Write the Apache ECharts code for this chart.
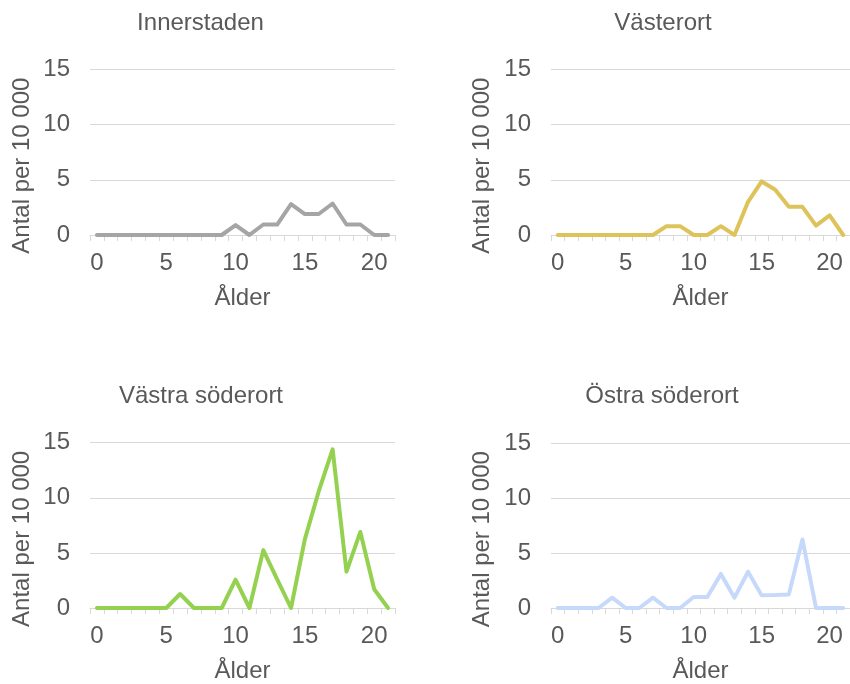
<!DOCTYPE html>
<html>
<head>
<meta charset="utf-8">
<script src="https://cdn.jsdelivr.net/npm/echarts@6/dist/echarts.min.js"></script>
<style>
  html, body { margin: 0; padding: 0; background: #fff; }
  #chart { width: 850px; height: 684px; }
</style>
</head>
<body>
<div id="chart"></div>
<script>
const ages = ['0','1','2','3','4','5','6','7','8','9','10','11','12','13','14','15','16','17','18','19','20','21']

const innerstaden = [0, 0, 0, 0, 0, 0, 0, 0, 0, 0, 0.9, 0, 0.95, 0.95, 2.8, 1.9, 1.9, 2.85, 0.95, 0.95, 0, 0]
const vasterort = [0, 0, 0, 0, 0, 0, 0, 0, 0.8, 0.8, 0, 0, 0.8, 0, 3.0, 4.85, 4.1, 2.55, 2.55, 0.85, 1.78, 0]
const vastraSoderort = [0, 0, 0, 0, 0, 0, 1.27, 0, 0, 0, 2.57, 0, 5.25, 2.6, 0, 6.25, 10.6, 14.4, 3.3, 6.9, 1.7, 0]
const ostraSoderort = [0, 0, 0, 0, 0.94, 0, 0, 0.94, 0, 0, 1.0, 1.0, 3.1, 0.94, 3.3, 1.15, 1.18, 1.24, 6.24, 0, 0, 0]

const panelTitles = ['Innerstaden', 'Västerort', 'Västra söderort', 'Östra söderort']
const panelData = [innerstaden, vasterort, vastraSoderort, ostraSoderort]
const panelColors = ['#a5a5a5', '#ddc35a', '#95d150', '#c6d9fb']

const yTicks = { min: 0, max: 15, interval: 5 }
const xName = 'Ålder'
const yName = 'Antal per 10 000'

const font = 'Liberation Sans, Arial, sans-serif'
const textColor = '#595959'
const fs = 24

const grids = [
  { left: 90, top: 69.3, width: 305, height: 165.7 },
  { left: 551, top: 69.3, width: 303.6, height: 165.7 },
  { left: 90, top: 442.7, width: 305, height: 166.3 },
  { left: 551, top: 443.3, width: 303.6, height: 165.7 },
]
const titlePos = [
  { x: 200.5, y: 11 },
  { x: 663, y: 11 },
  { x: 201, y: 384.5 },
  { x: 662, y: 384.5 },
]
const yNameGap = [56, 56.5, 56, 56.5]

const chart = echarts.init(document.getElementById('chart'))

chart.setOption({
  animation: false,
  textStyle: { fontFamily: font },
  title: panelTitles.map((t, i) => ({
    text: t,
    left: titlePos[i].x,
    top: titlePos[i].y,
    textAlign: 'center',
    padding: 0,
    textStyle: { fontFamily: font, fontSize: fs, fontWeight: 'normal', color: textColor },
  })),
  grid: grids.map((g) => ({ ...g, containLabel: false })),
  xAxis: grids.map((_, i) => ({
    type: 'category',
    gridIndex: i,
    data: ages,
    boundaryGap: true,
    name: xName,
    nameLocation: 'middle',
    nameGap: 51,
    nameTextStyle: { fontFamily: font, fontSize: fs, color: textColor },
    axisLine: { show: true, lineStyle: { color: '#d9d9d9', width: 1 } },
    axisTick: { show: true, interval: 0, length: 6, lineStyle: { color: '#d9d9d9' } },
    axisLabel: { interval: 4, margin: 16, fontFamily: font, fontSize: fs, color: textColor },
    splitLine: { show: false },
  })),
  yAxis: grids.map((_, i) => ({
    type: 'value',
    gridIndex: i,
    min: yTicks.min,
    max: yTicks.max,
    interval: yTicks.interval,
    name: yName,
    nameLocation: 'middle',
    nameGap: yNameGap[i],
    nameTextStyle: { fontFamily: font, fontSize: fs, color: textColor, padding: [0, 27, 0, 0] },
    axisLine: { show: false },
    axisTick: { show: false },
    axisLabel: { margin: 20, fontFamily: font, fontSize: fs, color: textColor },
    splitLine: { lineStyle: { color: '#d9d9d9', width: 1 } },
  })),
  series: panelData.map((d, i) => ({
    name: panelTitles[i],
    type: 'line',
    xAxisIndex: i,
    yAxisIndex: i,
    data: d,
    symbol: 'none',
    clip: false,
    lineStyle: { color: panelColors[i], width: 4, join: 'round', cap: 'round' },
  })),
})
</script>
</body>
</html>
